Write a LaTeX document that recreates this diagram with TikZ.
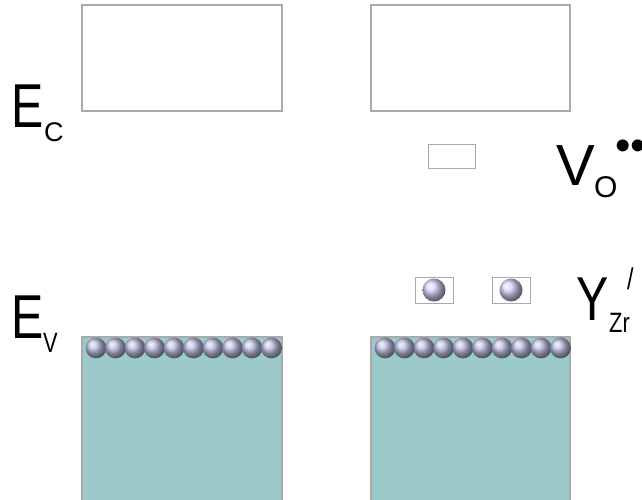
\documentclass[tikz,border=0pt]{standalone}
\usepackage{fontspec}
\setmainfont{Liberation Sans}[FakeStretch=0.78]
\newfontfamily\roundfont{Liberation Sans}
\definecolor{bandfill}{RGB}{156,202,203}
\definecolor{bandline}{RGB}{170,170,170}
\definecolor{hostatom}{RGB}{188,190,222}
\definecolor{dopant}{RGB}{210,210,248}

\begin{document}
\begin{tikzpicture}[x=1pt,y=-1pt,line join=miter,
  band/.style={draw=bandline,line width=1.2pt},
  level/.style={draw=bandline,line width=1pt},
  biglab/.style={anchor=base west,inner sep=0pt,font=\fontsize{62}{62}\selectfont},
  sublab/.style={anchor=base west,inner sep=0pt,font=\fontsize{28}{28}\selectfont},
  suplab/.style={anchor=base west,inner sep=0pt,font=\fontsize{30}{30}\selectfont}]
\useasboundingbox (0,0) rectangle (642,499);
% conduction bands
\draw[band] (82,5) rectangle (282,111);
\draw[band] (371,5) rectangle (570,111);
% valence bands
\draw[band,fill=bandfill] (82,337) rectangle (282,505);
\draw[band,fill=bandfill] (371,337) rectangle (570,505);
\foreach \i in {0,...,9} {
  \shade[ball color=hostatom] ({96+19.5*\i},348) circle (10.4);
  \shade[ball color=hostatom] ({385+19.5*\i},348) circle (10.4);
}
% donor level
\draw[level] (428,144) rectangle (475,168);
% acceptor levels
\draw[level] (415,277) rectangle (453,303);
\draw[level] (492,277) rectangle (530,303);
\shade[ball color=dopant] (434,290) circle (11.5);
\shade[ball color=dopant] (511,290) circle (11.5);
% labels
\node[biglab] (Ec) at (11,127) {E};
\node[sublab,font=\roundfont\fontsize{27}{27}\selectfont] (EcSub) at (44,141) {C};
\node[biglab] (Ev) at (11,338) {E};
\node[sublab] (EvSub) at (43,352) {V};
\node[biglab,font=\roundfont\fontsize{58}{58}\selectfont] (Vo) at (556,185) {V};
\node[sublab,font=\roundfont\fontsize{30}{30}\selectfont] (VoSub) at (594,197) {O};
\node[suplab,font=\roundfont\fontsize{44}{44}\selectfont] (VoSup) at (615,160) {••};
\node[biglab] (Yzr) at (576,320) {Y};
\node[sublab] (YzrSub) at (609,332) {Zr};
\node[suplab] (YzrSup) at (627,289) {/};
\end{tikzpicture}
\end{document}
